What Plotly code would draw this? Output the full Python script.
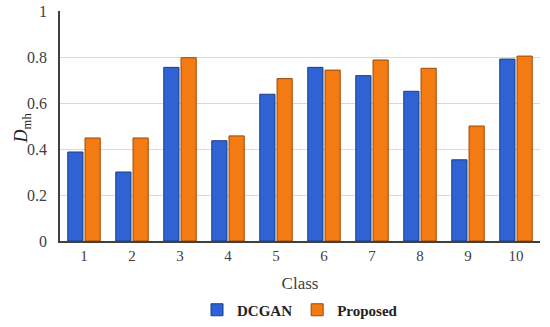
import plotly.graph_objects as go

classes = ["1", "2", "3", "4", "5", "6", "7", "8", "9", "10"]
dcgan = [0.387, 0.30, 0.755, 0.436, 0.638, 0.755, 0.719, 0.651, 0.353, 0.791]
proposed = [0.448, 0.448, 0.797, 0.457, 0.706, 0.743, 0.787, 0.751, 0.50, 0.804]
y_title = "<i>D</i><sub>mh</sub>"

font_family = "Liberation Serif"

fig = go.Figure()
fig.add_trace(go.Bar(x=classes, y=dcgan, name="<b>DCGAN</b>",
                     marker=dict(color="#2f62d4", line=dict(color="#1d3d85", width=1))))
fig.add_trace(go.Bar(x=classes, y=proposed, name="<b>Proposed</b>",
                     marker=dict(color="#f47a12", line=dict(color="#9a4a08", width=1))))

fig.update_layout(
    width=550, height=327,
    margin=dict(l=60, r=10, t=11, b=86, autoexpand=False),
    paper_bgcolor="white", plot_bgcolor="white",
    barmode="group", bargap=0.28, bargroupgap=0.12,
    font=dict(family=font_family, size=15, color="#404040"),
    showlegend=True,
    legend=dict(orientation="h", x=0.5, xanchor="center", y=-0.30, yanchor="middle",
                font=dict(family=font_family, size=15, color="#222222"),
                itemwidth=30, traceorder="normal"),
    annotations=[dict(text=y_title, xref="paper", yref="paper", x=-0.079, y=0.49,
                      xanchor="center", yanchor="middle", textangle=-90, showarrow=False,
                      font=dict(family=font_family, size=18, color="#222222"))],
)
fig.update_xaxes(showline=True, linecolor="#404040", linewidth=1.5,
                 ticks="", showgrid=False,
                 title=dict(text="Class", font=dict(family=font_family, size=17, color="#404040"), standoff=14),
                 tickfont=dict(family=font_family, size=15, color="#404040"))
fig.update_yaxes(range=[0, 1], showline=True, linecolor="#404040", linewidth=1.5,
                 gridcolor="#d9d9d9", gridwidth=1, zeroline=False,
                 tickvals=[0, 0.2, 0.4, 0.6, 0.8, 1], ticktext=["0", "0.2", "0.4", "0.6", "0.8", "1"],
                 ticks="", ticklen=0, ticklabelstandoff=8,
                 tickfont=dict(family=font_family, size=16, color="#404040"))

fig.write_html("out.html", post_script="document.body.style.margin='0';",
               config={"displayModeBar": False})
